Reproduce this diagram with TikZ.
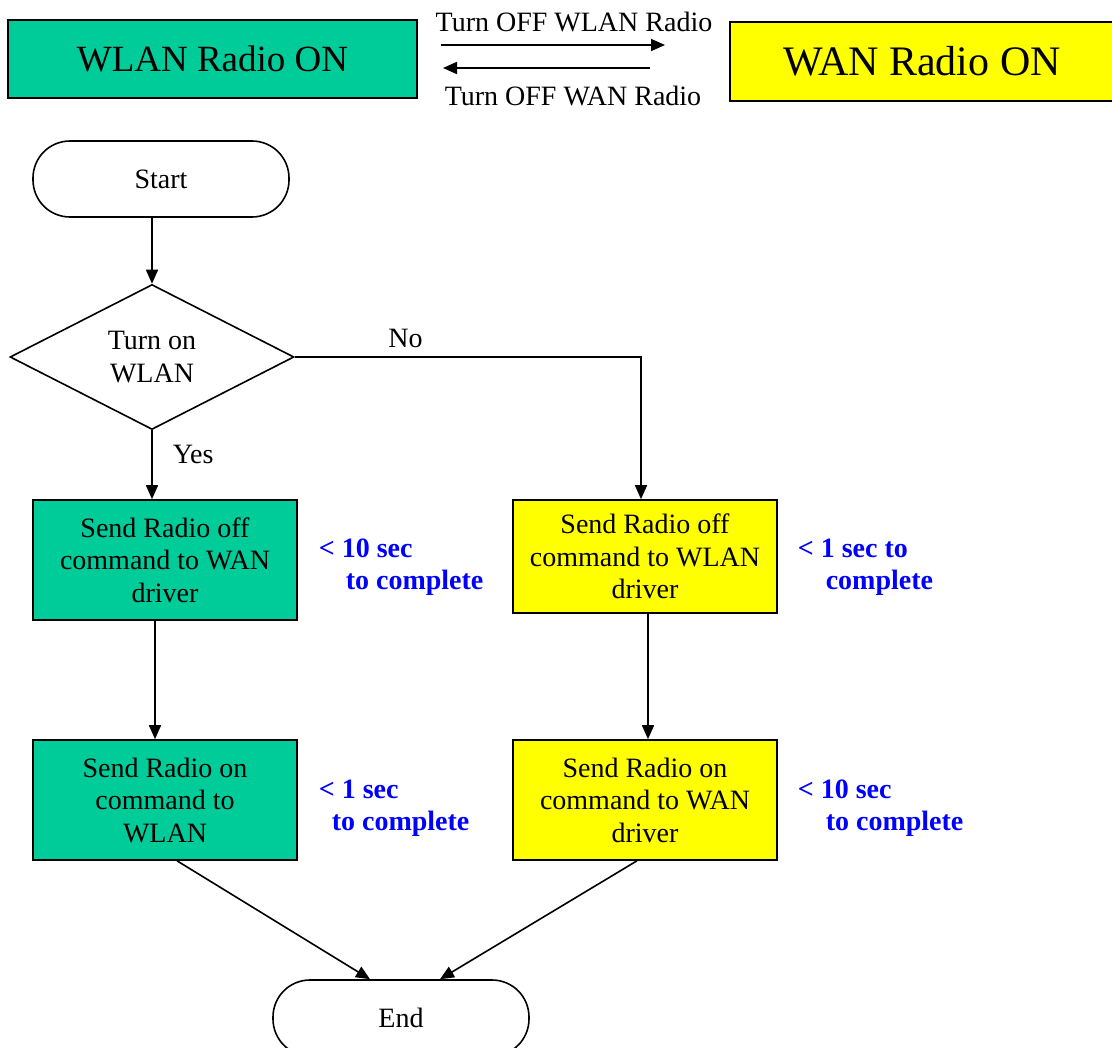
\documentclass[tikz,border=0pt]{standalone}
\usepackage{fontspec}
\setmainfont{Liberation Serif}
\usetikzlibrary{shapes}
\usetikzlibrary{arrows.meta}
\definecolor{wlangreen}{HTML}{00CC99}
\definecolor{wanyellow}{HTML}{FFFF00}
\definecolor{noteblue}{HTML}{0000FF}
\tikzset{
	basenode/.style = {
		align=center,
		inner sep=0pt,
		text centered,
		draw=black,
		line width=1.6pt,
		font=\fontsize{28}{32.5}\selectfont
	},
	node_mode/.style = {
		basenode,
		rectangle,
		minimum height=78pt
	},
	node_wlan/.style = {
		basenode,
		rectangle,
		fill=wlangreen,
		minimum width=264pt,
		minimum height=120pt
	},
	node_wan/.style = {
		node_wlan,
		fill=wanyellow
	},
	node_term/.style = {
		basenode,
		rectangle,
		rounded corners=37pt,
		minimum width=256pt,
		minimum height=76pt
	},
	node_dec/.style = {
		basenode,
		diamond,
		minimum width=284pt,
		minimum height=145pt
	},
	node_lbl/.style = {
		inner sep=0pt,
		font=\fontsize{28}{32.5}\selectfont
	},
	node_note/.style = {
		node_lbl,
		align=left,
		anchor=west,
		text=noteblue,
		font=\fontsize{28}{32}\selectfont\bfseries
	},
}

\begin{document}
\begin{tikzpicture}[x=1pt, y=-1pt, line width=1.6pt, ->, >={Triangle[length=14pt,width=12pt]}]
\useasboundingbox (0,0) rectangle (1112,1048);
% mode legend
\node [node_mode, fill=wlangreen, minimum width=409pt, font=\fontsize{37}{40}\selectfont] (wlanon) at (212.5,59) {WLAN Radio ON};
\node [node_mode, fill=wanyellow, minimum width=384pt, minimum height=79pt, font=\fontsize{42}{44}\selectfont] (wanon) at (922,61.5) {WAN Radio ON};
\coordinate (offwlan_a) at (441,45);
\coordinate (offwlan_b) at (665,45);
\coordinate (offwan_a) at (650,68);
\coordinate (offwan_b) at (443,68);
\draw (offwlan_a) -- (offwlan_b);
\draw (offwan_a) -- (offwan_b);
\node [node_lbl] (offwlan) at (574,22) {Turn OFF WLAN Radio};
\node [node_lbl] (offwan) at (573,96) {Turn OFF WAN Radio};

% flow
\node [node_term] (start) at (161,179) {Start};
\node [node_dec] (dec) at (152,357) {Turn on\\WLAN};
\node [node_wlan] (g1) at (165,560) {Send Radio off\\command to WAN\\driver};
\node [node_wlan] (g2) at (165,800) {Send Radio on\\command to\\WLAN};
\node [node_wan, minimum height=113pt] (y1) at (645,556.5) {Send Radio off\\command to WLAN\\driver};
\node [node_wan] (y2) at (645,800) {Send Radio on\\command to WAN\\driver};
\node [node_term] (end) at (401,1018) {End};
\coordinate (noturn) at (641,357);

\draw (dec.north |- start.south) -- (dec.north);
\draw (dec.south) -- (dec.south |- g1.north) node [node_lbl, pos=0.35, right=20pt] {Yes};
\draw (dec.east) -- (noturn) node [node_lbl, pos=0.32, above=8pt] {No} -- (noturn |- y1.north);
\draw ([xshift=-10pt]g1.south) -- ([xshift=-10pt]g2.north);
\draw ([xshift=3pt]y1.south) -- ([xshift=3pt]y2.north);
\draw ([xshift=12pt]g2.south) -- ([xshift=-31pt]end.north);
\draw ([xshift=-8pt]y2.south) -- ([xshift=39pt]end.north);

% timings
\node [node_note] (t1) at (318,567) {< 10 sec\\\hspace{27pt}to complete};
\node [node_note] (t2) at (318,808) {< 1 sec\\\hspace{13pt}to complete};
\node [node_note] (t3) at (797,567) {< 1 sec to\\\hspace{28pt}complete};
\node [node_note] (t4) at (797,808) {< 10 sec\\\hspace{28pt}to complete};
\end{tikzpicture}
\end{document}
